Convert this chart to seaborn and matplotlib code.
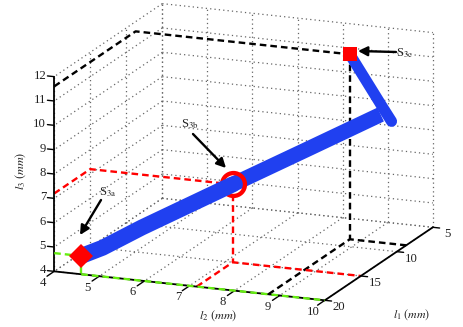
import matplotlib
matplotlib.use('Agg')
import matplotlib.pyplot as plt
import seaborn as sns
from mpl_toolkits.mplot3d import proj3d

# readings: (l1, l2, l3)
l1_main = [20, 19.3, 18, 15]
l2_main = [4.6, 4.96, 5.62, 7.16]
l3_main = [4.75, 5.02, 5.72, 7.2]
l1_upper = [15, 12.5, 10.12]
l2_upper = [7.16, 8.44, 9.66]
l3_upper = [7.2, 8.42, 9.59]
l1_hook = [8.7, 9.98, 10.3]
l2_hook = [8.75, 9.69, 9.93]
l3_hook = [11.6, 9.84, 9.4]

s3a = (20, 4.6, 4.75)
s3b = (15, 7.16, 7.2)
s3c = (8.7, 8.75, 11.6)

l1_ticks = [5, 10, 15, 20]
l2_ticks = [4, 5, 6, 7, 8, 9, 10]
l3_ticks = [4, 5, 6, 7, 8, 9, 10, 11, 12]

sns.set_style('white')
plt.rcParams['font.family'] = ['Liberation Serif', 'DejaVu Serif']
plt.rcParams['mathtext.fontset'] = 'stix'

BLUE = '#2040f0'
GREEN = '#66ee11'
RED = '#ff0000'
TXT = '#222222'

W, H = 463, 327
fig = plt.figure(figsize=(W / 100, H / 100), dpi=100)
ax = fig.add_axes([14.5 / W, -54 / H, 446 / W, 446 / H], projection='3d',
                  proj_type='ortho', computed_zorder=False)
ax.set_anchor('SW')
ax.set_xlim(5, 20)
ax.set_ylim(4, 10)
ax.set_zlim(4, 12)
ax.set_box_aspect((292, 291, 202))
ax.view_init(elev=15.6, azim=21.7)
ax.set_axis_off()


def label(x, y, z, s, **kw):
    # text2D so the label gets a real 2D position
    px, py, _ = proj3d.proj_transform(x, y, z, ax.get_proj())
    ax.text2D(px, py, s, transform=ax.transData, fontsize=9.2, color=TXT, va='center', **kw)


def grid(xs, ys, zs):
    ax.plot(xs, ys, zs, color='#666666', lw=0.9, ls=(0, (1, 2.5)), zorder=1)


for v in l2_ticks:
    grid([5, 20], [v, v], [4, 4])
    grid([5, 5], [v, v], [4, 12])
for v in l1_ticks:
    grid([v, v], [4, 10], [4, 4])
    grid([v, v], [4, 4], [4, 12])
for v in l3_ticks:
    grid([5, 5], [4, 10], [v, v])
    grid([5, 20], [4, 4], [v, v])


def guide(pt, color, z):
    x, y, h = pt
    style = dict(color=color, lw=1.7, ls=(0, (2.8, 1.7)), zorder=z)
    ax.plot([20, x, x], [4, 4, y], [h, h, h], **style)
    ax.plot([x, x], [y, y], [h, 4], **style)
    ax.plot([20, x, x], [y, y, 10], [4, 4, 4], **style)


guide(s3c, 'black', 3)
guide(s3b, RED, 3)

# axes lines
ax_style = dict(color='black', lw=1.3, zorder=4)
ax.plot([20, 20], [4, 10], [4, 4], **ax_style)
ax.plot([5, 20], [10, 10], [4, 4], **ax_style)
ax.plot([20, 20], [4, 4], [4, 12], **ax_style)

# green one sits on the front plane
style = dict(color=GREEN, lw=1.7, ls=(0, (2.8, 1.7)), zorder=5)
ax.plot([20, 20], [4, s3a[1]], [s3a[2], s3a[2]], **style)
ax.plot([20, 20], [s3a[1], s3a[1]], [s3a[2], 4], **style)
ax.plot([20, 20], [s3a[1], 10], [4, 4], **style)

tick_style = dict(color='black', lw=1.0, zorder=4)
for v in l2_ticks:
    ax.plot([20, 21], [v, v], [4, 4], **tick_style)
    label(21.6, v, 3.85, str(v), ha='center')
for v in l1_ticks:
    ax.plot([v, v], [10, 10.15], [4, 4], **tick_style)
    label(v, 10.32, 3.77, str(v), ha='center')
for v in l3_ticks:
    ax.plot([20, 20], [4, 3.85], [v, v], **tick_style)
    label(20, 3.82, v, str(v), ha='right')

# the path itself, the ring sits between the two thick parts
ax.plot(l1_hook, l2_hook, l3_hook, color=BLUE, lw=8, solid_capstyle='round', zorder=6)
ax.plot(l1_upper, l2_upper, l3_upper, color=BLUE, lw=11, solid_capstyle='butt', zorder=6)
ax.plot(*[[c] for c in s3b], 'o', mfc='none', mec=RED, mew=3.1, ms=16.5, zorder=7)
ax.plot(l1_main, l2_main, l3_main, color=BLUE, lw=11.5, solid_capstyle='round', zorder=8)

ax.plot(*[[c] for c in s3a], marker='D', ls='none', color=RED, ms=12.5, mew=0, zorder=9)
ax.plot(*[[c] for c in s3c], marker='s', ls='none', color=RED, ms=9.5, mew=0, zorder=9)

# callouts
arrow = dict(arrowstyle='-|>,head_width=0.28,head_length=0.55', color='black', lw=1.7,
             shrinkA=0, shrinkB=0)
for name, txt, tail, head in [('3a', (108, 192), (101, 200), (80, 235)),
                              ('3b', (190, 124), (193, 134), (226, 168)),
                              ('3c', (405, 53), (396, 52), (358, 51))]:
    ax.annotate('', xy=(head[0], H - head[1]), xytext=(tail[0], H - tail[1]),
                xycoords='figure pixels', textcoords='figure pixels', arrowprops=arrow)
    fig.text(txt[0] / W, 1 - txt[1] / H, 'S$_{\\mathrm{%s}}$' % name, ha='center', va='center',
             fontsize=9, color=TXT)

fig.text(218 / W, 1 - 316 / H, '$l_2\\ (mm)$', ha='center', va='center', fontsize=8.8, color=TXT)
fig.text(412 / W, 1 - 315 / H, '$l_1\\ (mm)$', ha='center', va='center', fontsize=8.6, color=TXT)
fig.text(21 / W, 1 - 171 / H, '$l_3\\ (mm)$', ha='center', va='center', rotation=90, fontsize=8.8, color=TXT)

fig.savefig('out.png', dpi=100)
